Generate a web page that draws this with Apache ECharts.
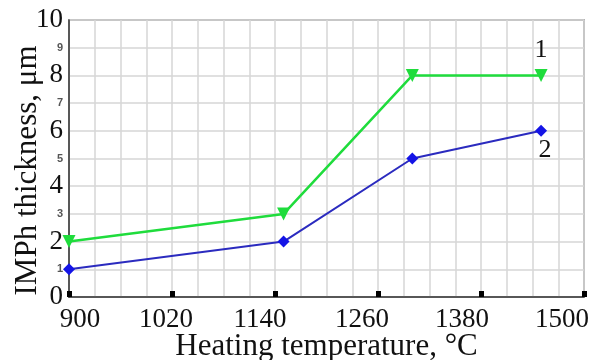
<!DOCTYPE html>
<html lang="en">
<head>
<meta charset="UTF-8">
<title>IMPh thickness</title>
<style>
    body { margin: 0; padding: 0; background: #fff; }
    #chart { width: 593px; height: 360px; }
</style>
</head>
<body>
<script src="https://cdn.jsdelivr.net/npm/echarts@6/dist/echarts.min.js"></script>
<div id="chart"></div>
<script>
// data
var temps = [900, 1150, 1300, 1450];
var curve1 = [2, 3, 8, 8];
var curve2 = [1, 2, 5, 6];
var curveNames = ['1', '2'];
var xTicks = [900, 1020, 1140, 1260, 1380, 1500];

function pairs(ys) {
    return temps.map(function (t, i) { return [t, ys[i]]; });
}

var serif = '"Liberation Serif", "Times New Roman", serif';

// the tick labels in the picture sit a little off their ticks
var labelShift = [11, -6, -15, -16, -19, -22];
var xRich = {};
labelShift.forEach(function (s, i) {
    xRich['t' + i] = {
        fontFamily: serif, fontSize: 27, color: '#111',
        padding: s > 0 ? [0, 0, 0, 2 * s] : [0, -2 * s, 0, 0]
    };
});

var myChart = echarts.init(document.getElementById('chart'));

var option = {
    animation: false,
    grid: {
        left: 69, right: 9, top: 20, bottom: 63,
        outerBoundsMode: 'none',
        containLabel: false,
        show: true,
        borderColor: '#7a7a7a',
        borderWidth: 1.5
    },
    xAxis: {
        type: 'value',
        min: 900,
        max: 1500,
        interval: 120,
        name: 'Heating temperature, °C',
        nameLocation: 'middle',
        nameGap: 34,
        nameMoveOverlap: false,
        nameTextStyle: { fontFamily: serif, fontSize: 31, color: '#111' },
        axisLine: { show: true, lineStyle: { color: '#333', width: 1.5 } },
        axisTick: { show: true, inside: true, length: 6, lineStyle: { color: '#000', width: 5 } },
        axisLabel: {
            margin: 9,
            formatter: function (v) {
                var i = xTicks.indexOf(v);
                return '{t' + i + '|' + v + '}';
            },
            rich: xRich
        },
        splitLine: { show: true, lineStyle: { color: '#d6d6d6', width: 1.5 } },
        minorTick: { show: false, splitNumber: 4 },
        minorSplitLine: { show: true, lineStyle: { color: '#d6d6d6', width: 1.5 } }
    },
    yAxis: {
        type: 'value',
        min: 0,
        max: 10,
        interval: 1,
        name: 'IMPh thickness, μm',
        nameLocation: 'middle',
        nameGap: 26,
        nameMoveOverlap: false,
        nameTextStyle: { fontFamily: serif, fontSize: 31, color: '#111', padding: [0, 24, 0, 0] },
        axisLine: { show: true, lineStyle: { color: '#333', width: 1.5 } },
        axisTick: { show: false },
        axisLabel: {
            margin: 6,
            formatter: function (v) {
                return v % 2 === 0 ? '{big|' + v + '}' : '{small|' + v + '}';
            },
            rich: {
                big: { fontFamily: serif, fontSize: 27, color: '#111' },
                small: { fontFamily: 'Arial, "Liberation Sans", sans-serif', fontSize: 11, fontWeight: 'bold', color: '#555' }
            }
        },
        splitLine: { show: true, lineStyle: { color: '#d6d6d6', width: 1.5 } }
    },
    series: [
        {
            name: curveNames[0],
            type: 'line',
            data: pairs(curve1),
            symbol: 'triangle',
            symbolRotate: 180,
            symbolSize: 13,
            lineStyle: { color: '#1fdc3c', width: 2.5 },
            itemStyle: { color: '#1fdc3c' },
            label: {
                show: true,
                position: 'top',
                distance: 6,
                fontFamily: serif,
                fontSize: 26,
                color: '#111',
                formatter: function (p) { return p.dataIndex === temps.length - 1 ? curveNames[0] : ''; }
            }
        },
        {
            name: curveNames[1],
            type: 'line',
            data: pairs(curve2),
            symbol: 'diamond',
            symbolSize: 12,
            lineStyle: { color: '#2b2bbf', width: 2 },
            itemStyle: { color: '#1414e6' },
            label: {
                show: true,
                position: 'bottom',
                distance: 0,
                offset: [4, 0],
                fontFamily: serif,
                fontSize: 26,
                color: '#111',
                formatter: function (p) { return p.dataIndex === temps.length - 1 ? curveNames[1] : ''; }
            }
        }
    ]
};

myChart.setOption(option);
</script>
</body>
</html>
